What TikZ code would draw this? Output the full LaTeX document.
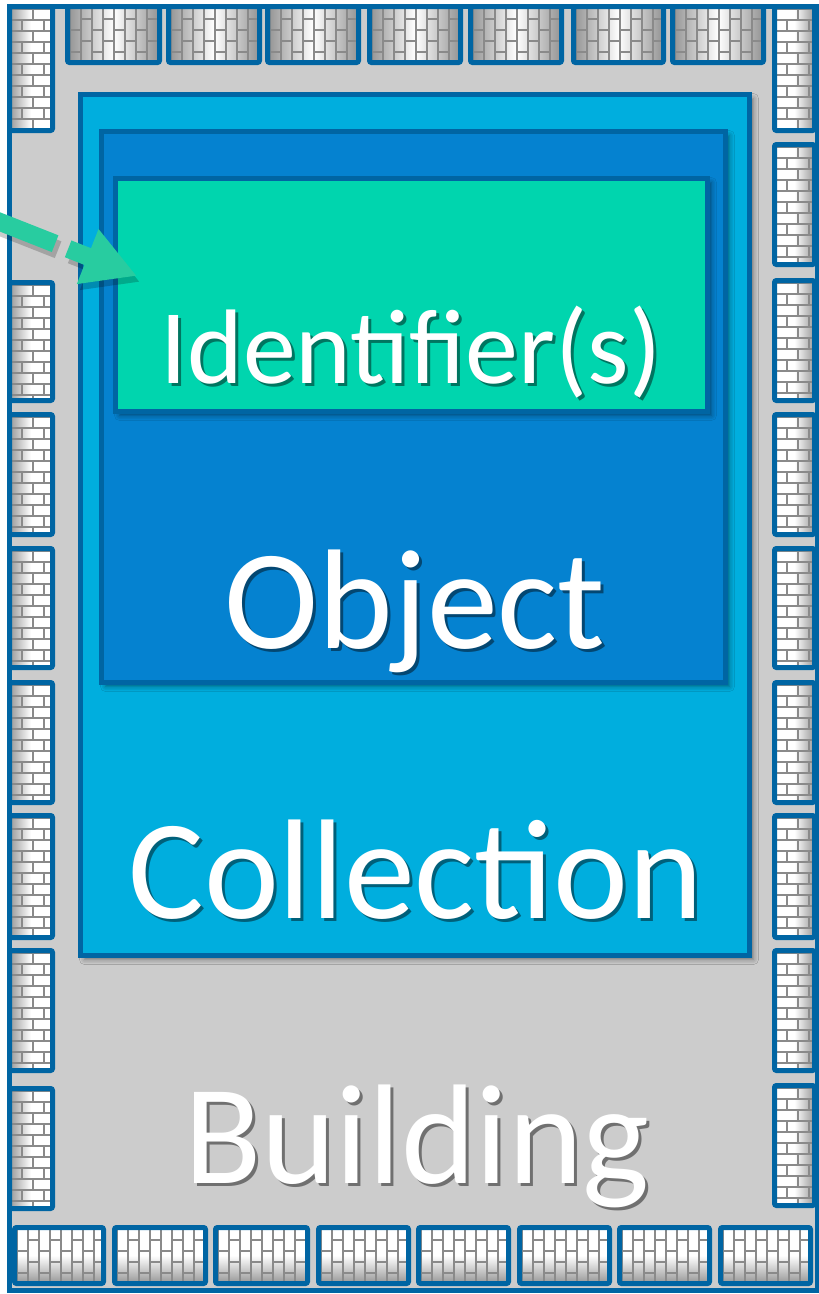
\documentclass[tikz,border=0pt]{standalone}
\usepackage{fontspec}
\setmainfont{Carlito}
\usepackage{tikz}
\usetikzlibrary{arrows.meta,calc,shadows.blur}
\definecolor{wall}{RGB}{204,204,204}
\definecolor{rim}{RGB}{0,101,163}
\definecolor{colc}{RGB}{0,174,222}
\definecolor{objc}{RGB}{5,130,208}
\definecolor{idc}{RGB}{0,213,174}
\definecolor{ptrc}{RGB}{40,204,160}
\definecolor{mort}{RGB}{138,138,138}
\definecolor{brsh}{RGB}{140,140,140}
\tikzset{
  tileedge/.style={draw=rim,line width=5pt,rounded corners=2pt},
  mortar/.style={draw=mort,line width=2.4pt},
  shl/.style ={left color=brsh,right color=white,middle color=white},
  shr/.style ={left color=white,right color=brsh,middle color=white},
  shlr/.style={left color=brsh,right color=brsh,middle color=white},
  shb/.style ={top color=white,bottom color=brsh,middle color=white},
  bldg/.style={draw=rim,fill=wall,line width=5pt,inner sep=0pt},
  box/.style ={draw=rim,line width=5pt,inner sep=0pt,
    blur shadow={shadow xshift=4pt,shadow yshift=-4pt,shadow blur radius=5pt,shadow opacity=45}},
  lbl/.style ={text=white,inner sep=0pt,anchor=base},
  ptr/.style ={draw=ptrc,line width=18pt,dash pattern=on 70pt off 14pt,
    -{Triangle[length=53pt,width=55pt]}},
}
\newcommand\shadowed[2]{%
  \makebox[0pt][l]{\hspace{3pt}\raisebox{-3pt}[0pt][0pt]{\textcolor{#1}{#2}}}#2}
\newcommand\bricksv[4]{%
  \foreach \k in {0,...,12}{%
    \pgfmathsetmacro\yy{#2+5+\k*11}%
    \pgfmathsetmacro\xo{#1+4+mod(\k,2)*11}%
    \draw[mortar] (#1,\yy) -- (#3,\yy);
    \foreach \j in {0,1,2}{\draw[mortar] ({\xo+\j*22},\yy) -- ++(0,11);}
  }}
\newcommand\bricksh[4]{%
  \foreach \k in {0,...,9}{%
    \pgfmathsetmacro\xx{#1+5+\k*11}%
    \pgfmathsetmacro\yo{#2+4+mod(\k,2)*11}%
    \draw[mortar] (\xx,#2) -- (\xx,#4);
    \foreach \j in {0,1,2}{\draw[mortar] (\xx,{\yo+\j*22}) -- ++(11,0);}
  }}
\newcommand\walltile[6]{%
  \begin{scope}
    \clip ({#1+2.5},{#2+2.5}) rectangle ({#3-2.5},{#4-2.5});
    \fill[#6] (#1,#2) rectangle (#3,#4);
    #5{#1}{#2}{#3}{#4}
  \end{scope}
  \draw[tileedge] ({#1+2.5},{#2+2.5}) rectangle ({#3-2.5},{#4-2.5});
}

\begin{document}
\begin{tikzpicture}[x=1pt,y=-1pt]
  \useasboundingbox[fill=white] (0,0) rectangle (819,1294);
  \node[bldg,minimum width=807.5pt,minimum height=1283.5pt] (house) at (413.25,648.25) {};

  \walltile{7}{4}{55}{133}{\bricksv}{shl}
  \walltile{772}{4}{817}{133}{\bricksv}{shr}
  \foreach \ya/\yb in {280/403,412/537,546/670,680/805,813/940,948/1073,1086/1211}
    {\walltile{7}{\ya}{55}{\yb}{\bricksv}{shl}}
  \foreach \ya/\yb in {142/267,278/403,412/537,546/670,680/805,813/940,948/1073,1083/1208}
    {\walltile{772}{\ya}{817}{\yb}{\bricksv}{shr}}
  \foreach \xa/\xb in {65/162,166/262,265/361,367/463,468/564,571/666,670/766}
    {\walltile{\xa}{4}{\xb}{65}{\bricksh}{shlr}}
  \foreach \xa/\xb in {12/106,112/208,213/310,316/411,416/511,517/612,617/712,718/813}
    {\walltile{\xa}{1225}{\xb}{1286}{\bricksh}{shb}}

  \node[box,fill=colc,minimum width=669pt,minimum height=861pt] (coll) at (415,525) {};
  \node[box,fill=objc,minimum width=624pt,minimum height=551pt] (obj) at (413.5,407) {};
  \node[box,fill=idc,minimum width=592pt,minimum height=233pt] (ident) at (411.5,295) {};

  \node[lbl,font=\fontsize{106}{106}\selectfont] (ident-t) at (411,383) {\shadowed{idc!55!black}{Identifier(s)}};
  \node[lbl,font=\fontsize{142}{142}\selectfont] (obj-t) at (415,648) {\shadowed{objc!55!black}{Object}};
  \node[lbl,font=\fontsize{142}{142}\selectfont] (coll-t) at (416,918) {\shadowed{colc!55!black}{Collection}};
  \node[lbl,font=\fontsize{142}{142}\selectfont] (house-t) at (417,1183) {\shadowed{wall!55!black}{Building}};

  \coordinate (src) at (-10,218);
  \coordinate (hit) at (137,276);
  \draw[ptr,draw=black,opacity=.2,transform canvas={xshift=3pt,yshift=-6pt}] (src) -- (hit);
  \draw[ptr] (src) -- (hit);
\end{tikzpicture}
\end{document}
